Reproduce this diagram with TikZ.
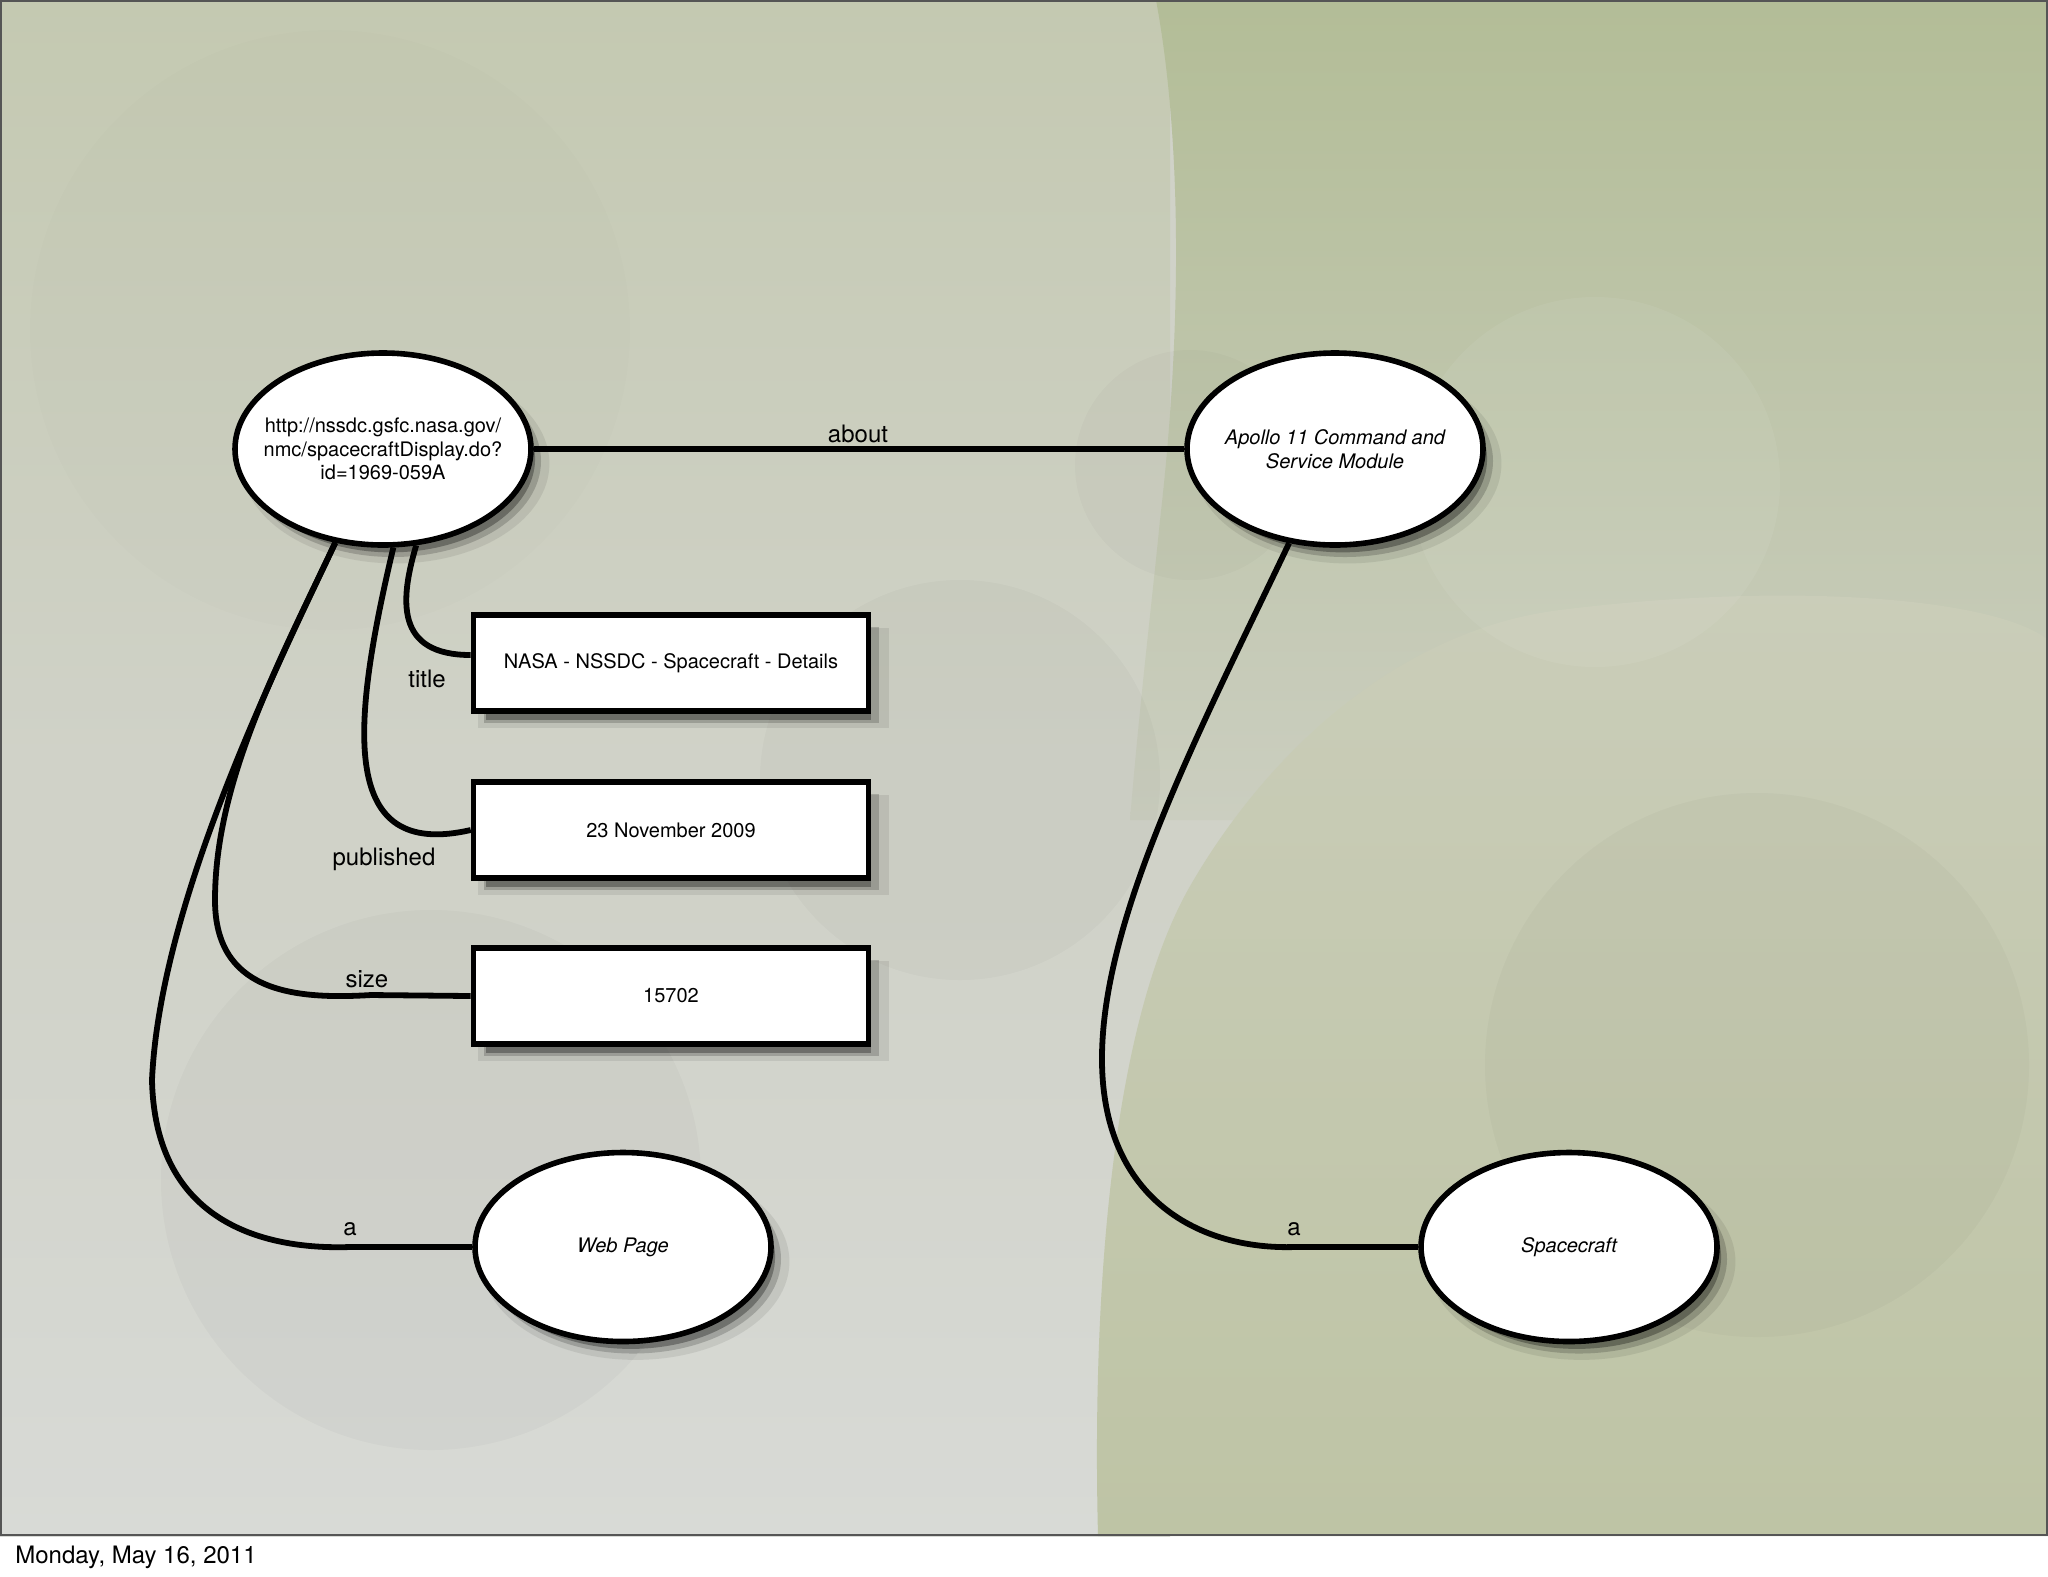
\documentclass[tikz,border=0pt]{standalone}
\usepackage{fontspec}
\setmainfont{TeX Gyre Heros}
\usetikzlibrary{shapes.geometric,shadows}
\definecolor{bgbase}{HTML}{D0D2C8}
\definecolor{bgtop}{HTML}{C4C9B1}
\definecolor{bglow}{HTML}{D8DAD6}
\definecolor{olivetop}{HTML}{B3BD97}
\definecolor{olivemid}{HTML}{CBCEC0}
\definecolor{blobtop}{HTML}{CACDB9}
\definecolor{blobbot}{HTML}{BEC4A5}
\definecolor{slideedge}{HTML}{555555}
\begin{document}
\begin{tikzpicture}[x=0.5pt,y=-0.5pt,
  conn/.style={line width=2.9pt, black},
  lbl/.style={font=\fontsize{12}{14}\selectfont, inner sep=0pt},
  softshadow/.style={
    general shadow={fill=black, opacity=0.08, shadow xshift=6pt, shadow yshift=-7pt, shadow scale=1.04},
    general shadow={fill=black, opacity=0.18, shadow xshift=5pt, shadow yshift=-6pt},
    general shadow={fill=black, opacity=0.3, shadow xshift=4pt, shadow yshift=-5pt, shadow scale=0.975}},
  res/.style={ellipse, draw=black, line width=2.8pt, fill=white, minimum width=148pt,
    minimum height=96pt, inner xsep=-8pt, inner ysep=0pt, align=center,
    font=\fontsize{10}{11.75}\selectfont, softshadow},
  resi/.style={res, font=\fontsize{10}{11.75}\selectfont\itshape},
  lit/.style={rectangle, draw=black, line width=2.8pt, fill=white, minimum width=197.5pt,
    minimum height=48pt, inner sep=0pt, align=center,
    font=\fontsize{10}{12}\selectfont, softshadow},
]
\useasboundingbox (0,0) rectangle (2048,1576);
% ---------- background ----------
\fill[white] (0,0) rectangle (2048,1576);
\fill[bgbase] (0,0) rectangle (2048,1536);
\shade[top color=bgtop, bottom color=bgbase] (0,0) rectangle (1170,760);
\shade[top color=bgbase, bottom color=bglow] (0,900) rectangle (1170,1536);
\shade[top color=olivetop, bottom color=olivemid]
  (1156,0) .. controls (1182,140) and (1182,330) .. (1160,520)
  .. controls (1150,620) and (1140,700) .. (1130,820) -- (2048,820) -- (2048,0) -- cycle;
\shade[top color=blobtop, bottom color=blobbot]
  (1098,1536) .. controls (1092,1300) and (1110,1020) .. (1193,881)
  .. controls (1270,750) and (1400,630) .. (1560,610)
  .. controls (1800,580) and (2000,600) .. (2048,640) -- (2048,1536) -- cycle;
\fill[black, opacity=0.008] (330,330) circle (300);
\fill[black, opacity=0.022] (431,1180) circle (270);
\fill[black, opacity=0.022] (960,780) circle (200);
\fill[black, opacity=0.018] (1190,465) circle (115);
\fill[black, opacity=0.022] (1757,1065) circle (272);
\fill[white, opacity=0.06] (1595,482) circle (185);
\draw[slideedge, line width=1pt] (1,1) rectangle (2047,1535);
% ---------- nodes ----------
\node[res] (url) at (383,449) {http://nssdc.gsfc.nasa.gov/\\nmc/spacecraftDisplay.do?\\id=1969-059A};
\node[resi] (apollo) at (1335,449) {Apollo 11 Command and\\Service Module};
\node[resi, minimum height=94.5pt] (web) at (623,1247) {Web Page};
\node[resi, minimum height=94.5pt] (craft) at (1569,1247) {Spacecraft};
\node[lit] (title) at (671,663) {NASA - NSSDC - Spacecraft - Details};
\node[lit] (pub) at (671,830) {23 November 2009};
\node[lit] (size) at (671,996) {15702};
% ---------- connectors ----------
\draw[conn] (url) -- (apollo);
\node[lbl] (labout) at (858,434) {about};
\draw[conn] (url.-71) .. controls (400,600) and (395,655) .. ([yshift=4pt]title.west);
\node[lbl] (ltitle) at (427,679) {title};
\draw[conn] (url.-84) .. controls (350,730) and (340,860) .. (pub.west);
\node[lbl] (lpub) at (384,859) {published};
\coordinate (jsize) at (371,995);
\draw[conn] (url.-117) .. controls (280,660) and (215,780) .. (215,900)
  .. controls (215,990) and (290,1000) .. (jsize) -- (size.west);
\node[lbl] (lsize) at (367,979) {size};
\coordinate (jweb) at (350,1247);
\draw[conn] (url.-117) .. controls (280,660) and (160,900) .. (152,1080)
  .. controls (155,1220) and (260,1250) .. (jweb) -- (web.west);
\node[lbl] (la1) at (350,1229) {a};
\coordinate (jcraft) at (1295,1247);
\draw[conn] (apollo.-116) .. controls (1200,730) and (1100,920) .. (1102,1063)
  .. controls (1104,1200) and (1200,1250) .. (jcraft) -- (craft.west);
\node[lbl] (la2) at (1294,1229) {a};
% ---------- footer ----------
\node[anchor=base west, font=\fontsize{12}{14}\selectfont, inner sep=0pt] (date) at (15,1563) {Monday, May 16, 2011};
\end{tikzpicture}
\end{document}
